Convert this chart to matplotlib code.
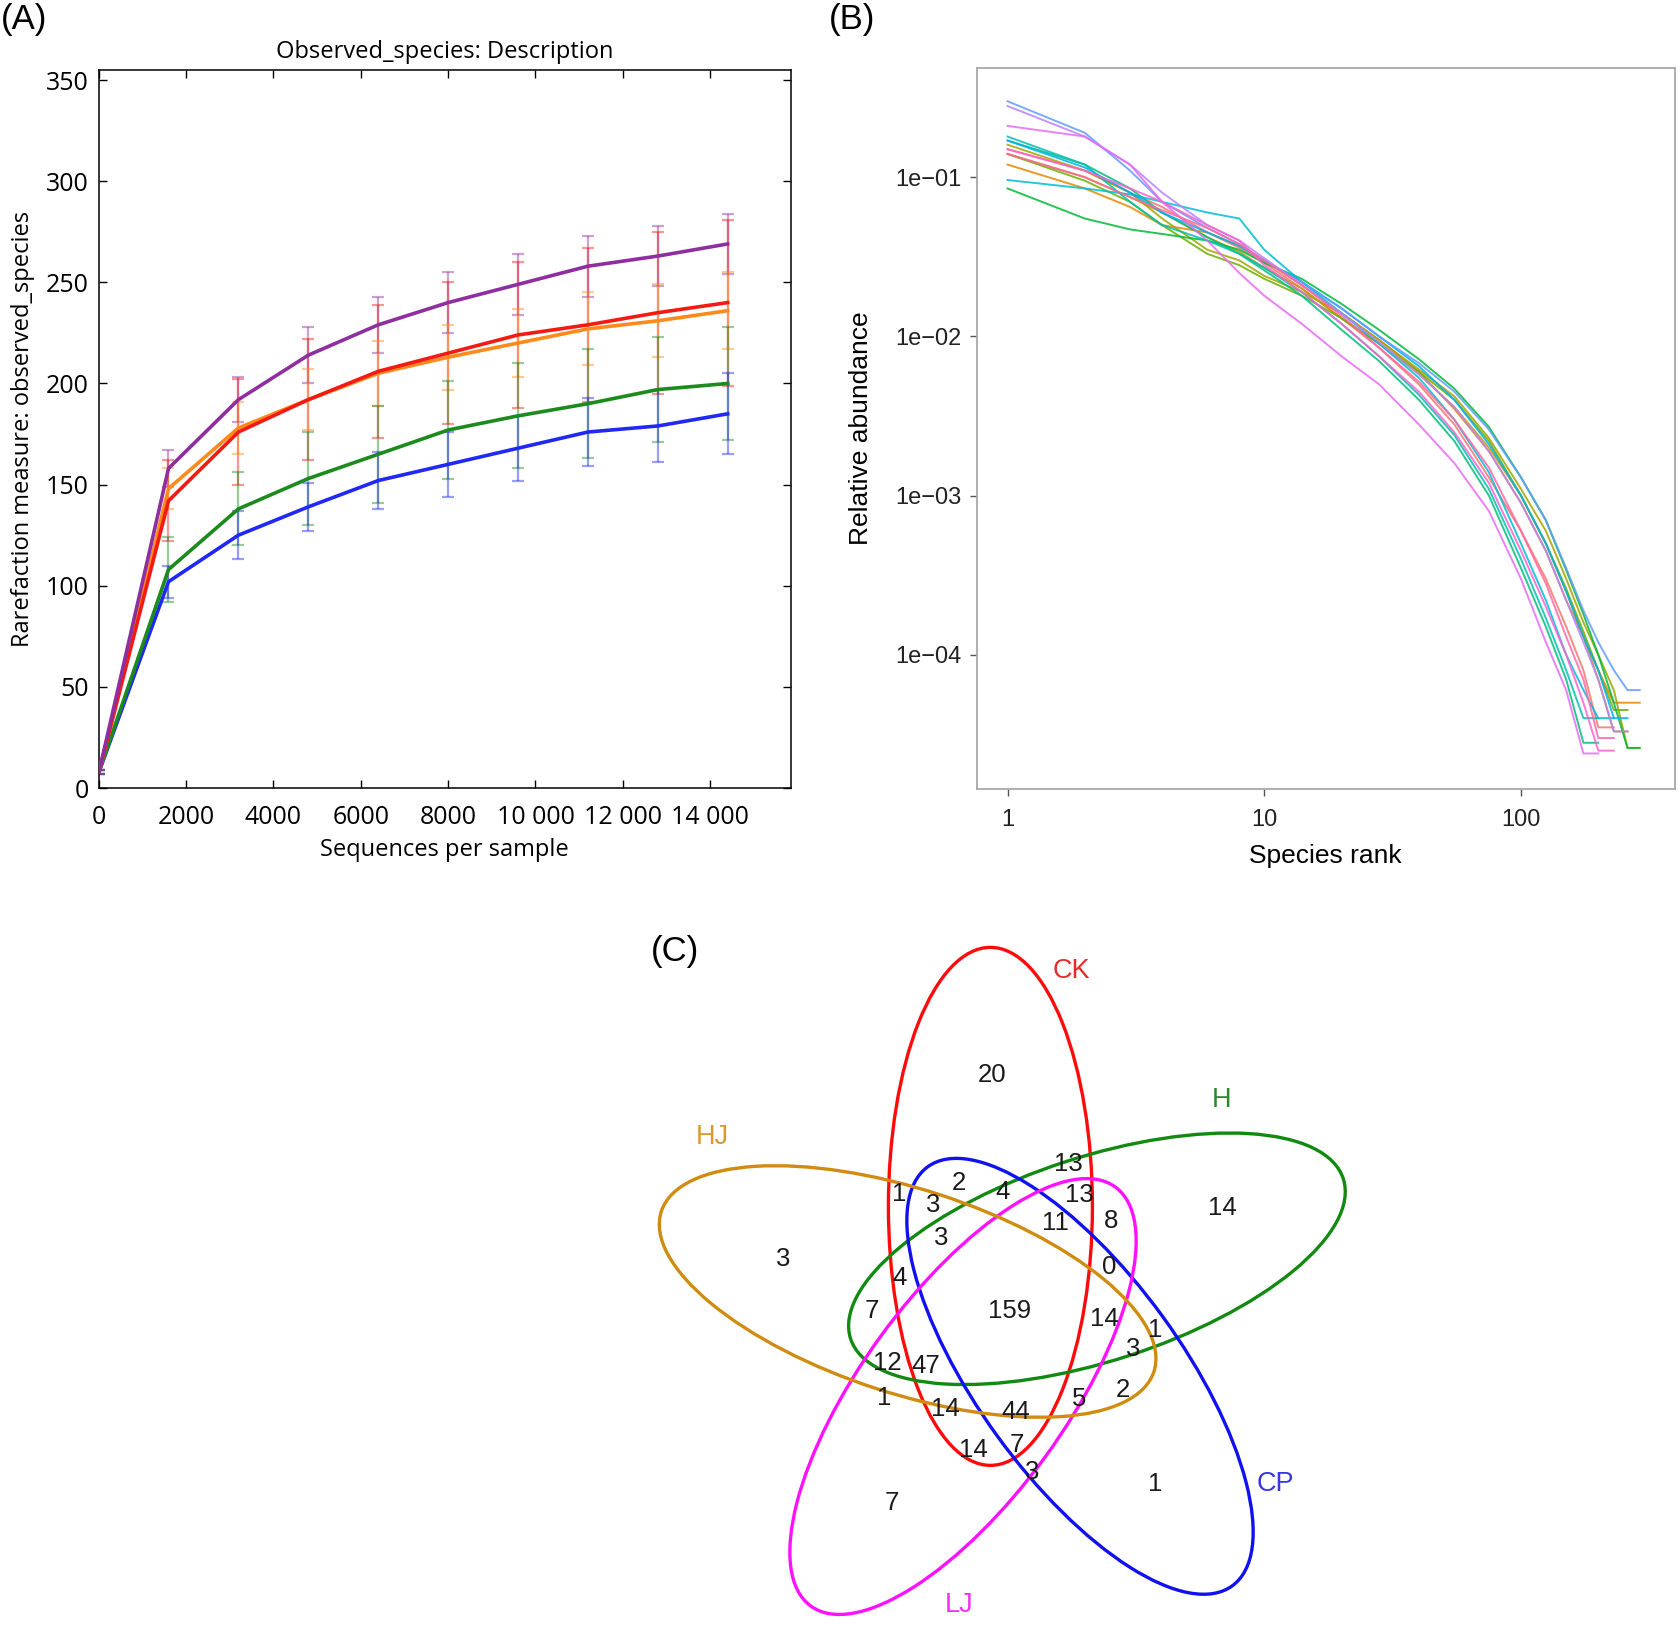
import numpy as np
import matplotlib
matplotlib.use('Agg')
import matplotlib.pyplot as plt
from matplotlib.patches import Ellipse
from matplotlib.ticker import FixedLocator, NullLocator

# ---------------- data: (A) rarefaction ----------------
seqs = [10, 1600, 3200, 4800, 6400, 8000, 9600, 11200, 12800, 14400]
groups_a = ['purple', 'red', 'orange', 'green', 'blue']
mean_purple = [8, 158, 192, 214, 229, 240, 249, 258, 263, 269]
mean_red = [8, 142, 176, 192, 206, 215, 224, 229, 235, 240]
mean_orange = [8, 148, 178, 192, 205, 213, 220, 227, 231, 236]
mean_green = [8, 108, 138, 153, 165, 177, 184, 190, 197, 200]
mean_blue = [8, 102, 125, 139, 152, 160, 168, 176, 179, 185]
sd_purple = [1, 9, 11, 14, 14, 15, 15, 15, 15, 15]
sd_red = [1, 20, 26, 30, 33, 35, 36, 38, 40, 41]
sd_orange = [1, 10, 13, 15, 16, 16, 17, 18, 18, 19]
sd_green = [1, 16, 18, 23, 24, 24, 26, 27, 26, 28]
sd_blue = [1, 8, 12, 12, 14, 16, 16, 17, 18, 20]
xticks_a = [0, 2000, 4000, 6000, 8000, 10000, 12000, 14000]
xticklabels_a = ['0', '2000', '4000', '6000', '8000', '10 000', '12 000', '14 000']

# ---------------- data: (B) rank abundance ----------------
rank_pts = [1, 2, 3, 4, 6, 8, 10, 14, 20, 28, 40, 55, 75, 100, 125, 150, 175, 200, 230, 260, 290]
s01 = [0.15, 0.11, 0.08, 0.065, 0.045, 0.036, 0.029, 0.02, 0.013, 0.0085, 0.005, 0.0028, 0.0013,
       0.0006, 0.0003, 0.00015, 0.00008, 0.000035, 0.000035]
s02 = [0.12, 0.085, 0.065, 0.05, 0.045, 0.037, 0.03, 0.021, 0.014, 0.0095, 0.006, 0.0035, 0.0019,
       0.0009, 0.00045, 0.00022, 0.00013, 0.00008, 0.00005, 0.00005, 0.00005]
s03 = [0.14, 0.1, 0.075, 0.06, 0.042, 0.034, 0.027, 0.02, 0.013, 0.009, 0.0058, 0.0036, 0.002,
       0.001, 0.0005, 0.00025, 0.00013, 0.00007, 0.000033, 0.000033]
s04 = [0.16, 0.11, 0.08, 0.055, 0.035, 0.03, 0.024, 0.019, 0.014, 0.0095, 0.0062, 0.0042, 0.0023,
       0.0011, 0.0006, 0.0003, 0.00016, 0.0001, 0.00006, 0.000026, 0.000026]
s05 = [0.14, 0.095, 0.07, 0.05, 0.033, 0.028, 0.023, 0.018, 0.013, 0.009, 0.006, 0.004, 0.0022,
       0.001, 0.0005, 0.00026, 0.00014, 0.00008, 0.000045, 0.000045]
s06 = [0.085, 0.055, 0.047, 0.044, 0.04, 0.035, 0.029, 0.023, 0.016, 0.011, 0.0072, 0.0047, 0.0027,
       0.0013, 0.0007, 0.00034, 0.00018, 0.0001, 0.00005, 0.000026, 0.000026]
s07 = [0.17, 0.12, 0.085, 0.06, 0.042, 0.033, 0.026, 0.018, 0.011, 0.007, 0.004, 0.0022, 0.001,
       0.00035, 0.00015, 0.00007, 0.000028, 0.000028]
s08 = [0.18, 0.12, 0.07, 0.05, 0.04, 0.033, 0.027, 0.019, 0.012, 0.0075, 0.0043, 0.0024, 0.0011,
       0.0004, 0.00017, 0.00008, 0.00004, 0.00004]
s09 = [0.096, 0.085, 0.078, 0.07, 0.06, 0.055, 0.035, 0.022, 0.014, 0.009, 0.0055, 0.003, 0.0014,
       0.0005, 0.00022, 0.0001, 0.00006, 0.00004, 0.00004]
s10 = [0.17, 0.115, 0.08, 0.06, 0.045, 0.037, 0.03, 0.022, 0.015, 0.01, 0.0065, 0.004, 0.0021,
       0.001, 0.0005, 0.00025, 0.00013, 0.00008, 0.00004, 0.00004]
s11 = [0.30, 0.19, 0.11, 0.07, 0.048, 0.038, 0.03, 0.022, 0.015, 0.01, 0.0068, 0.0045, 0.0026,
       0.0013, 0.0007, 0.00035, 0.00019, 0.00012, 0.00008, 0.00006, 0.00006]
s12 = [0.28, 0.18, 0.12, 0.08, 0.05, 0.04, 0.031, 0.021, 0.014, 0.0092, 0.0058, 0.0036, 0.0019,
       0.0009, 0.00045, 0.00022, 0.00012, 0.00007, 0.000033, 0.000033]
s13 = [0.21, 0.18, 0.12, 0.07, 0.04, 0.025, 0.018, 0.012, 0.0075, 0.005, 0.0028, 0.0016, 0.0008,
       0.0003, 0.00012, 0.00006, 0.000024, 0.000024]
s14 = [0.15, 0.11, 0.085, 0.07, 0.05, 0.04, 0.028, 0.019, 0.012, 0.0075, 0.0045, 0.0025, 0.0012,
       0.00045, 0.0002, 0.0001, 0.00005, 0.000025, 0.000025]
s15 = [0.14, 0.1, 0.075, 0.062, 0.048, 0.038, 0.03, 0.021, 0.0135, 0.0085, 0.0052, 0.003, 0.0015,
       0.0006, 0.00028, 0.00013, 0.00007, 0.00003, 0.00003]
samples_b = [s01, s02, s03, s04, s05, s06, s07, s08, s09, s10, s11, s12, s13, s14, s15]
hue15 = ['#F8766D', '#E58700', '#C99800', '#A3A500', '#6BB100', '#00BA38', '#00BF7D', '#00C0AF',
         '#00BCD8', '#00B0F6', '#619CFF', '#B983FF', '#E76BF3', '#FD61D1', '#FF67A4']

# ---------------- data: (C) venn ----------------
set_names = ['CK', 'H', 'CP', 'LJ', 'HJ']
region_counts = [20, 14, 3, 1, 7,
                 13, 1, 2, 4, 13, 3, 11, 8, 3, 0, 4, 7, 159, 14, 1, 3,
                 12, 47, 1, 14, 44, 5, 2, 14, 7, 3]

# ---------------- layout ----------------
W, H = 1680, 1637
fig = plt.figure(figsize=(W / 100, H / 100), dpi=100)

# ===== panel A =====
col_a = {'purple': '#8f2f9f', 'red': '#f41a14', 'orange': '#ff8a1c', 'green': '#1d8a1d', 'blue': '#1f28f5'}
means = {'purple': mean_purple, 'red': mean_red, 'orange': mean_orange, 'green': mean_green, 'blue': mean_blue}
sds = {'purple': sd_purple, 'red': sd_red, 'orange': sd_orange, 'green': sd_green, 'blue': sd_blue}

axa = fig.add_axes([98.6 / W, 1 - 788 / H, 692 / W, 718 / H])
for g in groups_a:
    axa.errorbar(seqs, means[g], yerr=sds[g], fmt='none', ecolor=col_a[g], alpha=0.45,
                 elinewidth=1.6, capsize=4.5, capthick=1.6, zorder=2)
for g in ['blue', 'green', 'orange', 'red', 'purple']:
    axa.plot(seqs, means[g], color=col_a[g], lw=2.6, zorder=3)
axa.set_xlim(0, 15840)
axa.set_ylim(0, 355)
axa.set_xticks(xticks_a)
axa.set_xticklabels(xticklabels_a)
axa.set_yticks(range(0, 351, 50))
axa.tick_params(direction='in', top=True, right=True, length=6, width=1, labelsize=18)
axa.tick_params(axis='x', pad=12)
axa.tick_params(axis='y', pad=7)
for lab in axa.get_xticklabels() + axa.get_yticklabels():
    lab.set_family('Open Sans')
for sp in axa.spines.values():
    sp.set_linewidth(1.1)
axa.set_title('Observed_species: Description', fontsize=17, family='Open Sans', pad=9)
axa.set_xlabel('Sequences per sample', fontsize=17, family='Open Sans', labelpad=6)
axa.set_ylabel('Rarefaction measure: observed_species', fontsize=17, family='Open Sans', labelpad=8)

# ===== panel B =====
axb = fig.add_axes([976.5 / W, 1 - 788.5 / H, 698.5 / W, 720.5 / H])
for vals, c in zip(samples_b, hue15):
    axb.plot(rank_pts[:len(vals)], vals, color=c, lw=1.4, alpha=0.85)
axb.set_xscale('log')
axb.set_yscale('log')
axb.set_xlim(10 ** -0.121, 10 ** 2.60)
axb.set_ylim(10 ** -4.84, 10 ** -0.314)
axb.xaxis.set_major_locator(FixedLocator([1, 10, 100]))
axb.xaxis.set_minor_locator(NullLocator())
axb.set_xticklabels(['1', '10', '100'])
axb.yaxis.set_major_locator(FixedLocator([1e-4, 1e-3, 1e-2, 1e-1]))
axb.yaxis.set_minor_locator(NullLocator())
axb.set_yticklabels(['1e\u221204', '1e\u221203', '1e\u221202', '1e\u221201'])
axb.tick_params(direction='out', length=5, width=1, color='#555555', labelcolor='#222222',
                labelsize=17, pad=6)
axb.tick_params(axis='x', pad=10)
for lab in axb.get_xticklabels() + axb.get_yticklabels():
    lab.set_family('Liberation Sans')
for sp in axb.spines.values():
    sp.set_color('#a8a8a8')
    sp.set_linewidth(1.3)
axb.set_xlabel('Species rank', fontsize=19, family='Liberation Sans', labelpad=9)
axb.set_ylabel('Relative abundance', fontsize=19, family='Liberation Sans', labelpad=16)

# ===== panel C (figure pixel coordinates, y down) =====
axc = fig.add_axes([0, 0, 1, 1])
axc.set_xlim(0, W)
axc.set_ylim(H, 0)
axc.axis('off')
axc.patch.set_alpha(0)

venn_cols = ['#ff0a0a', '#128a12', '#1010f0', '#ff10ff', '#d08c10']
label_cols = ['#e82a2a', '#2a8a2a', '#3a36e0', '#f030f0', '#d89a30']
cx, cy, dist = 1007.6, 1305.9, 101.0
semi_a, semi_b = 259.0, 102.0
for i, c in enumerate(venn_cols):
    phi = 90 - 72 * i
    th = np.deg2rad(99.8 - 72 * i)
    ex, ey = cx + dist * np.cos(th), cy - dist * np.sin(th)
    axc.add_patch(Ellipse((ex, ey), 2 * semi_a, 2 * semi_b, angle=-phi, fill=False,
                          edgecolor=c, lw=2.4))

set_label_pos = [(1071, 971), (1222, 1100), (1275, 1484), (959, 1605), (712, 1137)]
for name, (x, y), c in zip(set_names, set_label_pos, label_cols):
    axc.text(x, y, name, color=c, fontsize=19.5, family='Liberation Sans', ha='center', va='center')

region_pos = [(992, 1075), (1222, 1208), (783, 1259), (1155, 1484), (892, 1503),
              (1068, 1164), (899, 1194), (959, 1183), (1003, 1192), (1079, 1195),
              (933, 1205), (1055, 1223), (1111, 1221), (941, 1238), (1109, 1267),
              (900, 1278), (872, 1311), (1010, 1311), (1104, 1319), (1155, 1330),
              (1133, 1349), (887, 1363), (926, 1366), (884, 1398), (945, 1409),
              (1016, 1412), (1079, 1399), (1123, 1390), (973, 1450), (1017, 1445),
              (1032, 1472)]
for n, (x, y) in zip(region_counts, region_pos):
    axc.text(x, y, str(n), fontsize=18.5, family='Liberation Sans', ha='center', va='center',
             color='#1a1a1a')

# panel letters
for txt, x, y in [('(A)', 24, 19), ('(B)', 852, 19), ('(C)', 675, 951)]:
    axc.text(x, y, txt, fontsize=25, family='Liberation Sans', ha='center', va='center')

fig.savefig('out.png', dpi=100)
